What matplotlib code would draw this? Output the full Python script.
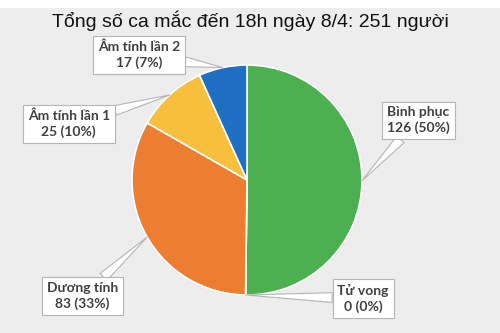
import numpy as np
import matplotlib.pyplot as plt
from matplotlib.patches import Rectangle

# data
labels = ['Bình phục', 'Tử vong', 'Dương tính', 'Âm tính lần 1', 'Âm tính lần 2']
values = [126, 0, 83, 25, 17]
percents = ['50%', '0%', '33%', '10%', '7%']
colors = ['#4caf50', '#a5a5a5', '#ed7d31', '#f8bf3c', '#1f6fc3']

# label box centres (data coords, pie radius = 1)
label_pos = [(1.49, 0.52), (1.01, -1.03), (-1.43, -1.01), (-1.55, 0.49), (-0.94, 1.09)]

fig = plt.figure(figsize=(5, 3.33), dpi=100)
fig.patch.set_facecolor('#ededed')
fig.patches.append(Rectangle((0, 1 - 8 / 333), 1, 8 / 333, transform=fig.transFigure,
                             facecolor='white', edgecolor='none', zorder=0))

ax = fig.add_axes([132 / 500, 38 / 333, 230 / 500, 230 / 333])
ax.set_facecolor('none')
wedges, _ = ax.pie(values, colors=colors, startangle=90, counterclock=False, radius=1,
                   wedgeprops=dict(edgecolor='white', linewidth=1.2))
ax.set_xlim(-1, 1)
ax.set_ylim(-1, 1)
ax.set_aspect('equal')
ax.axis('off')

for w, lab, v, p, (tx, ty) in zip(wedges, labels, values, percents, label_pos):
    ang = np.deg2rad((w.theta1 + w.theta2) / 2)
    x, y = np.cos(ang), np.sin(ang)
    ax.annotate(f'{lab}\n{v} ({p})', xy=(x, y), xytext=(tx, ty),
                ha='center', va='center', fontsize=10, fontweight='bold',
                family=['Lato', 'DejaVu Sans'], color='#404040', linespacing=1.3,
                annotation_clip=False,
                bbox=dict(boxstyle='square,pad=0.35', fc='white', ec='#b5b5b5', lw=0.8),
                arrowprops=dict(arrowstyle='wedge,tail_width=0.7', fc='white',
                                ec='#b5b5b5', lw=0.8, shrinkA=0, shrinkB=0))

fig.text(0.5, 1 - 21 / 333, 'Tổng số ca mắc đến 18h ngày 8/4: 251 người',
         ha='center', va='center', fontsize=14, family=['Liberation Sans', 'DejaVu Sans'],
         color='#111111')

fig.savefig('out.png', dpi=100, facecolor=fig.get_facecolor())
